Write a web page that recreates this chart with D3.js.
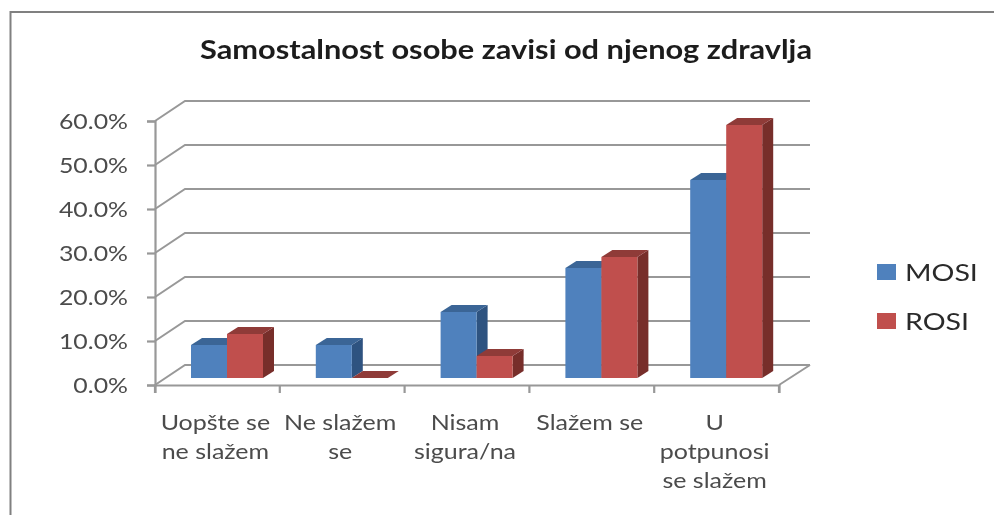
<!DOCTYPE html>
<html><head><meta charset="utf-8">
<script src="https://cdn.jsdelivr.net/npm/d3@7"></script>
<style>html,body{margin:0;padding:0;background:#fff;overflow:hidden}svg{display:block}text{font-family:Lato,sans-serif}</style>
</head><body><svg id="c" width="994" height="515"></svg>
<script>
const titleText = "Samostalnost osobe zavisi od njenog zdravlja";
const categories = ["Uopšte se|ne slažem", "Ne slažem|se", "Nisam|sigura/na", "Slažem se", "U|potpunosi|se slažem"];
const seriesNames = ["MOSI", "ROSI"];
const mosi = [7.5, 7.5, 15, 25, 45];
const rosi = [10, 0, 5, 27.5, 57.5];
const yTicks = [0, 10, 20, 30, 40, 50, 60];
const front = ["#4f81bd", "#c0504d"], top_ = ["#3a6596", "#8f3a38"], side = ["#2f5280", "#772d2b"];

const svg = d3.select("#c");
const defs = svg.append("defs");
defs.append("filter").attr("id", "soft").attr("x", "-2%").attr("y", "-2%").attr("width", "104%").attr("height", "104%")
  .append("feGaussianBlur").attr("stdDeviation", 0.75);
const g = svg.append("g").attr("filter", "url(#soft)");

const y = d3.scaleLinear().domain([0, 60]).range([385, 121]);
const x = d3.scaleBand().domain(categories).range([155, 779]);
const sub = d3.scaleBand().domain(seriesNames).range([36, 108]);
const wallX = 30, wallY = 20, barDX = 11, barDY = 7;
const grey = "#989898";

function stretch(sel, factor) {
  sel.each(function () {
    this.setAttribute("textLength", this.getComputedTextLength() * factor);
    this.setAttribute("lengthAdjust", "spacingAndGlyphs");
  });
}

// frame
g.append("path").attr("d", "M10.5 515V12H994").attr("fill", "none").attr("stroke", "#808080").attr("stroke-width", 2);

// title
g.append("text").attr("x", 200).attr("y", 59).attr("font-size", 26).attr("font-weight", 700).attr("fill", "#1c1c1c")
  .attr("textLength", 612).attr("lengthAdjust", "spacingAndGlyphs").text(titleText);

// walls
const back = g.append("g").attr("fill", "none").attr("stroke", grey).attr("stroke-width", 2);
yTicks.forEach(t => {
  back.append("path").attr("d", d3.line()([[155, y(t)], [155 + wallX, y(t) - wallY], [810, y(t) - wallY]]));
});
back.append("path").attr("d", d3.line()([[779, y(0)], [810, y(0) - wallY]]));

// axes
const yAxis = g.append("g").attr("transform", "translate(155,0)")
  .call(d3.axisLeft(y).tickValues(yTicks).tickSize(8).tickPadding(19).tickFormat(d => d3.format(".1f")(d) + "%"));
const xAxis = g.append("g").attr("transform", "translate(0,385)")
  .call(d3.axisBottom(x).tickValues([]).tickSizeOuter(8));
xAxis.selectAll(".tk").data(d3.range(categories.length + 1)).enter().append("line")
  .attr("x1", i => 155 + i * x.step()).attr("x2", i => 155 + i * x.step()).attr("y1", 0).attr("y2", 8);
[yAxis, xAxis].forEach(a => {
  a.selectAll("path,line").attr("stroke", grey).attr("stroke-width", 2.2);
});
yAxis.selectAll("text").attr("font-size", 22).attr("fill", "#4c4c4c").attr("dy", "0.36em").style("font-family", "Lato,sans-serif");
stretch(yAxis.selectAll("text"), 1.13);

// bars
categories.forEach((c, i) => {
  seriesNames.forEach((s, k) => {
    const v = (k === 0 ? mosi : rosi)[i];
    const x0 = x(c) + sub(s), x1 = x0 + sub.bandwidth();
    const yb = y(0) - barDY, yt = y(v) - barDY;
    const bar = g.append("g");
    bar.append("path").attr("fill", side[k]).attr("d", d3.line()([[x1, yb], [x1 + barDX, yb - barDY], [x1 + barDX, yt - barDY], [x1, yt]]) + "Z");
    bar.append("path").attr("fill", top_[k]).attr("d", d3.line()([[x0, yt], [x0 + barDX, yt - barDY], [x1 + barDX, yt - barDY], [x1, yt]]) + "Z");
    bar.append("rect").attr("fill", front[k]).attr("x", x0).attr("y", yt).attr("width", x1 - x0).attr("height", yb - yt);
  });
});

// category labels
categories.forEach(c => {
  const cx = x(c) + x.bandwidth() / 2 - 2;
  c.split("|").forEach((line, j) => {
    const t = g.append("text").attr("x", cx).attr("y", 430 + j * 29).attr("text-anchor", "middle")
      .attr("font-size", 21).attr("fill", "#4c4c4c").text(line);
    stretch(t, 1.19);
  });
});

// legend
const legendY = d3.scalePoint().domain(seriesNames).range([272, 321]);
seriesNames.forEach((s, k) => {
  g.append("rect").attr("x", 877).attr("y", legendY(s) - 8).attr("width", 19).attr("height", 16).attr("fill", front[k]);
  const t = g.append("text").attr("x", 905).attr("y", legendY(s) + 9).attr("font-size", 24).attr("fill", "#2c2c2c").text(s);
  stretch(t, 1.19);
});
</script></body></html>
